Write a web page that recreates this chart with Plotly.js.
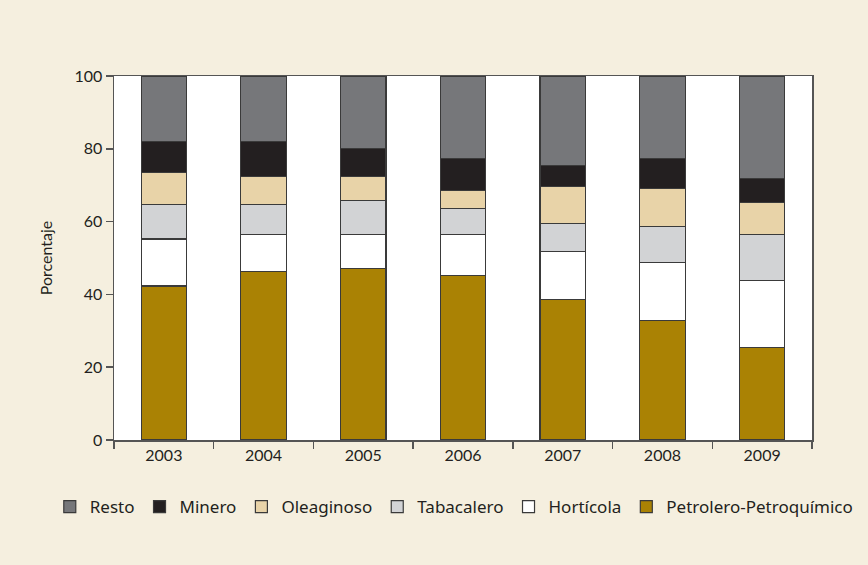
<!DOCTYPE html>
<html>
<head>
<meta charset="utf-8">
<script src="https://cdn.plot.ly/plotly-3.0.1.min.js"></script>
<style>html,body{margin:0;padding:0;background:#F5EFDF;}#chart{width:868px;height:565px;}</style>
</head>
<body>
<div id="chart"></div>
<script>
const years = ["2003", "2004", "2005", "2006", "2007", "2008", "2009"];
const petrolero = [42.3, 46.3, 47.2, 45.2, 38.7, 32.9, 25.5];
const horticola = [12.9, 10.2, 9.3, 11.3, 13.1, 15.8, 18.3];
const tabacalero = [9.5, 8.2, 9.3, 7.2, 7.7, 9.9, 12.7];
const oleaginoso = [8.8, 7.7, 6.7, 4.8, 10.2, 10.6, 8.8];
const minero = [8.6, 9.7, 7.6, 8.9, 5.7, 8.2, 6.5];
const resto = [17.9, 17.9, 19.9, 22.6, 24.6, 22.6, 28.2];

const seriesNames = ["Petrolero-Petroquímico", "Hortícola", "Tabacalero", "Oleaginoso", "Minero", "Resto"];
const seriesValues = [petrolero, horticola, tabacalero, oleaginoso, minero, resto];
const seriesColors = ["#AA8204", "#FFFFFF", "#D2D3D5", "#E8D3A8", "#231F20", "#76777A"];

const traces = seriesNames.map((name, i) => ({
  type: "bar",
  name: name,
  x: years,
  y: seriesValues[i],
  marker: {color: seriesColors[i], line: {color: "#3a3a3a", width: 1.2}},
  hoverinfo: "x+y+name"
}));

const layout = {
  width: 868,
  height: 565,
  paper_bgcolor: "#F5EFDF",
  plot_bgcolor: "#FFFFFF",
  barmode: "stack",
  bargap: 0.545,
  margin: {l: 114, r: 56, t: 76, b: 125},
  font: {family: "Lato, 'Noto Sans', sans-serif", color: "#231F20", size: 16},
  xaxis: {
    type: "category",
    showline: true, linecolor: "#555", linewidth: 1.5, mirror: true,
    ticks: "outside", tickson: "boundaries", ticklen: 7, tickcolor: "#555", tickwidth: 1.5,
    tickfont: {size: 16},
    showgrid: false
  },
  yaxis: {
    range: [0, 100],
    tickvals: [0, 20, 40, 60, 80, 100],
    showline: true, linecolor: "#555", linewidth: 1.5, mirror: true,
    ticks: "outside", ticklen: 7, tickcolor: "#555", tickwidth: 1.5,
    tickfont: {size: 16},
    showgrid: false, zeroline: false,
    title: {text: "Porcentaje", font: {size: 16}, standoff: 18}
  },
  legend: {
    orientation: "h",
    traceorder: "reversed",
    x: -0.092, xanchor: "left",
    y: -0.135, yanchor: "top",
    font: {family: "'Noto Sans', sans-serif", size: 17},
    itemwidth: 30,
    bgcolor: "rgba(0,0,0,0)"
  },
  showlegend: true
};

Plotly.newPlot("chart", traces, layout, {displayModeBar: false, staticPlot: true});
</script>
</body>
</html>
